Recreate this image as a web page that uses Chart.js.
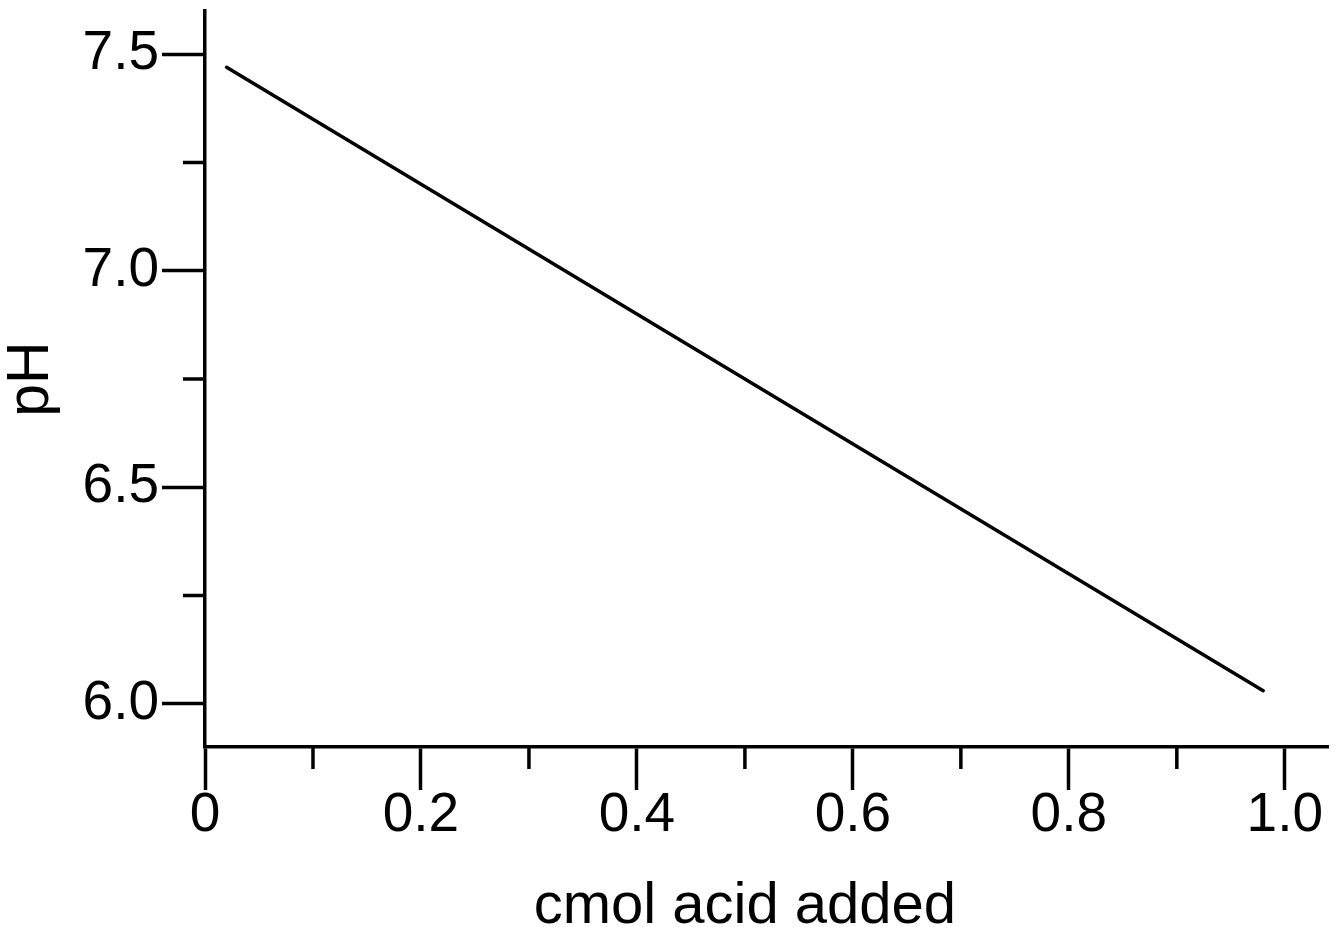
<!DOCTYPE html>
<html>
<head>
<meta charset="utf-8">
<script src="https://cdn.jsdelivr.net/npm/chart.js@4/dist/chart.umd.min.js"></script>
<style>
  html, body { margin: 0; padding: 0; background: #fff; }
  canvas { display: block; }
</style>
</head>
<body>
<canvas id="chart" width="1338" height="927"></canvas>
<script>
// ── Dados ──────────────────────────────────────────
const acidAdded = [0.02, 0.98];          // cmol
const phValues = [7.47, 6.03];
const xMinorTicks = [0.1, 0.3, 0.5, 0.7, 0.9];
const yMinorTicks = [6.25, 6.75, 7.25];
const xTitle = 'cmol acid added';
const yTitle = 'pH';

const FONT = "'Liberation Sans', Arial, Helvetica, sans-serif";
const INK = '#000';
const STROKE = 3.5;

// ticks menores (mais curtos) desenhados via escala
const minorTicks = {
  id: 'minorTicks',
  afterDraw(chart) {
    const { ctx, scales } = chart;
    const len = 22;
    ctx.save();
    ctx.strokeStyle = INK;
    ctx.lineWidth = STROKE;
    ctx.beginPath();
    xMinorTicks.forEach((v) => {
      const px = scales.x.getPixelForValue(v);
      ctx.moveTo(px, scales.x.top);
      ctx.lineTo(px, scales.x.top + len);
    });
    yMinorTicks.forEach((v) => {
      const py = scales.y.getPixelForValue(v);
      ctx.moveTo(scales.y.right, py);
      ctx.lineTo(scales.y.right - len, py);
    });
    ctx.stroke();

    // título do eixo x, centrado na faixa 0–1
    ctx.fillStyle = INK;
    ctx.font = `58px ${FONT}`;
    ctx.textAlign = 'center';
    ctx.textBaseline = 'alphabetic';
    ctx.fillText(xTitle, scales.x.getPixelForValue(0.5), scales.x.bottom - 4);
    ctx.restore();
  },
};

new Chart(document.getElementById('chart'), {
  type: 'line',
  data: {
    datasets: [
      {
        data: acidAdded.map((x, i) => ({ x, y: phValues[i] })),
        borderColor: INK,
        borderWidth: STROKE,
        borderCapStyle: 'round',
        pointRadius: 0,
        tension: 0,
        fill: false,
      },
    ],
  },
  options: {
    responsive: false,
    animation: false,
    layout: { padding: { top: 11, right: 10, left: 0, bottom: 0 } },
    plugins: { legend: { display: false }, tooltip: { enabled: false } },
    scales: {
      x: {
        type: 'linear',
        min: 0,
        max: 1.04,
        afterFit: (s) => {
          s.height = 180;
          s.paddingLeft = 0;
          s.paddingRight = 0;
        },
        border: { color: INK, width: STROKE },
        grid: { drawOnChartArea: false, drawTicks: true, tickLength: 43, tickWidth: STROKE, tickColor: INK },
        ticks: {
          stepSize: 0.2,
          includeBounds: false,
          padding: -2,
          color: INK,
          font: { family: FONT, size: 55, lineHeight: 1 },
          maxRotation: 0,
          callback: (v) => (v === 0 ? '0' : Number(v).toFixed(1)),
        },
      },
      y: {
        min: 5.9,
        max: 7.6,
        afterFit: (s) => {
          s.width = 205;
          s.paddingTop = 0;
          s.paddingBottom = 0;
        },
        border: { color: INK, width: STROKE },
        grid: { drawOnChartArea: false, drawTicks: true, tickLength: 43, tickWidth: STROKE, tickColor: INK },
        ticks: {
          stepSize: 0.5,
          includeBounds: false,
          padding: 3,
          color: INK,
          font: { family: FONT, size: 55 },
          callback: (v) => Number(v).toFixed(1),
        },
        title: {
          display: true,
          text: yTitle,
          color: INK,
          font: { family: FONT, size: 59, lineHeight: 1 },
          padding: { top: 2, bottom: 0 },
        },
      },
    },
  },
  plugins: [minorTicks],
});
</script>
</body>
</html>
